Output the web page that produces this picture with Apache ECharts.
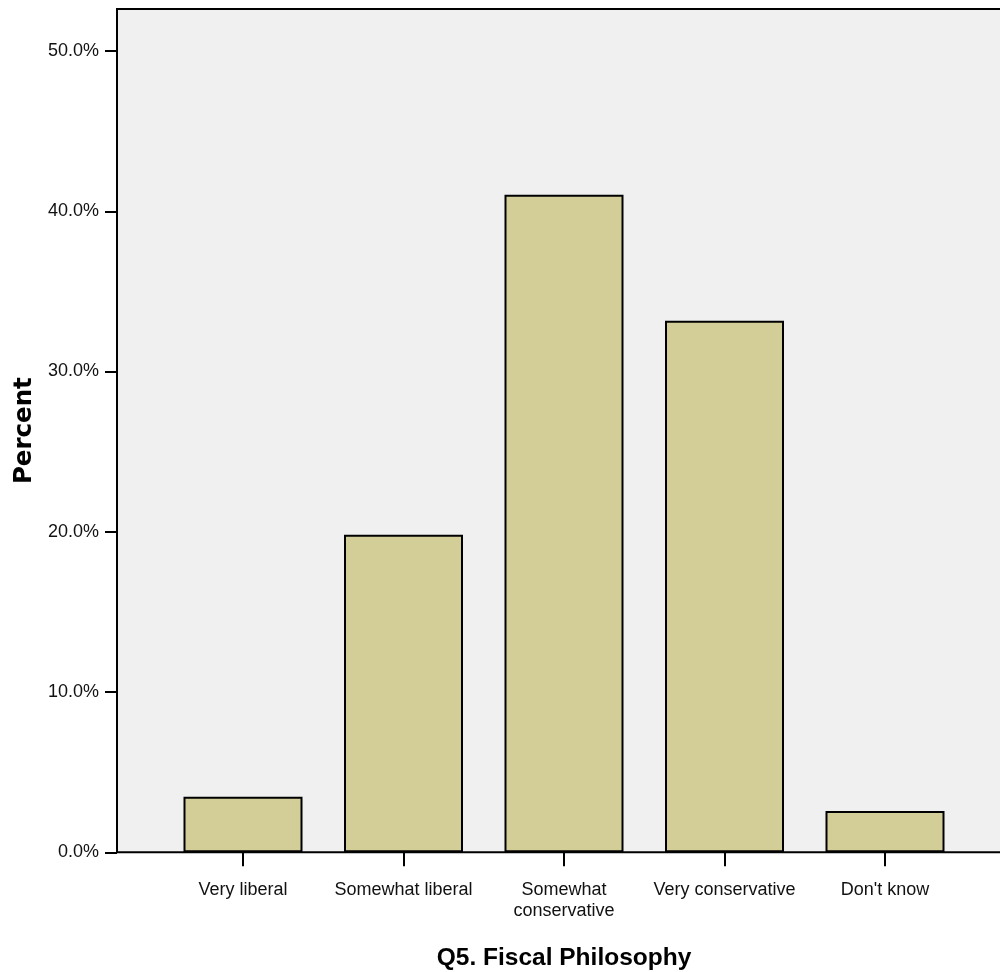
<!DOCTYPE html>
<html>
<head>
<meta charset="utf-8">
<script src="https://cdn.jsdelivr.net/npm/echarts@6/dist/echarts.min.js"></script>
<style>html,body{margin:0;padding:0;background:#fff}#c{width:1000px;height:972px}</style>
</head>
<body>
<div id="c"></div>
<script>
const categories = ['Very liberal', 'Somewhat liberal', 'Somewhat\nconservative', 'Very conservative', "Don't know"];
const percentValues = [3.47, 19.82, 41.03, 33.17, 2.58];
const yTicks = [0, 10, 20, 30, 40, 50];
const xTitle = 'Q5. Fiscal Philosophy';
const yTitle = 'Percent';

const sans = '"Liberation Sans", Arial, sans-serif';
const chart = echarts.init(document.getElementById('c'), null, {renderer: 'canvas'});
chart.setOption({
  animation: false,
  backgroundColor: '#ffffff',
  grid: [
    {left: 117, top: 9, width: 900, height: 843.3, show: true, backgroundColor: '#f0f0f0',
     borderColor: '#000', borderWidth: 2, containLabel: false, outerBoundsMode: 'none'},
    {left: 162.75, top: 51, width: 802.5, height: 801.3, containLabel: false, outerBoundsMode: 'none'}
  ],
  xAxis: [
    {gridIndex: 0, type: 'value', min: 0, max: 1, show: false},
    {gridIndex: 1, type: 'category', data: categories, boundaryGap: true,
     axisLine: {show: false},
     axisTick: {show: true, alignWithLabel: true, length: 14, inside: false, lineStyle: {color: '#000', width: 2}},
     axisLabel: {color: '#111', fontFamily: sans, fontSize: 18, lineHeight: 21, margin: 27, interval: 0},
     name: xTitle, nameLocation: 'middle', nameGap: 93,
     nameTextStyle: {fontFamily: sans, fontWeight: 'bold', fontSize: 24.5, color: '#000'}}
  ],
  yAxis: [
    {gridIndex: 0, type: 'value', min: 0, max: 1, show: true,
     axisLine: {show: false}, axisTick: {show: false}, axisLabel: {show: false}, splitLine: {show: false},
     name: yTitle, nameLocation: 'middle', nameGap: 80, nameRotate: 90,
     nameTextStyle: {fontFamily: '"DejaVu Sans", Verdana, sans-serif', fontWeight: 'bold', fontSize: 24.5, color: '#000'}},
    {gridIndex: 1, type: 'value', min: 0, max: 50, interval: 10, offset: 45.75,
     axisLine: {show: false},
     axisTick: {show: true, length: 12, inside: false, lineStyle: {color: '#000', width: 2}, customValues: yTicks},
     axisLabel: {color: '#111', fontFamily: sans, fontSize: 18, margin: 18, customValues: yTicks,
       formatter: v => v.toFixed(1) + '%'},
     splitLine: {show: false}}
  ],
  series: [{
    type: 'bar', xAxisIndex: 1, yAxisIndex: 1, data: percentValues, barWidth: 119,
    itemStyle: {color: '#d3ce98', borderColor: '#000', borderWidth: 2}
  }]
});
</script>
</body>
</html>
